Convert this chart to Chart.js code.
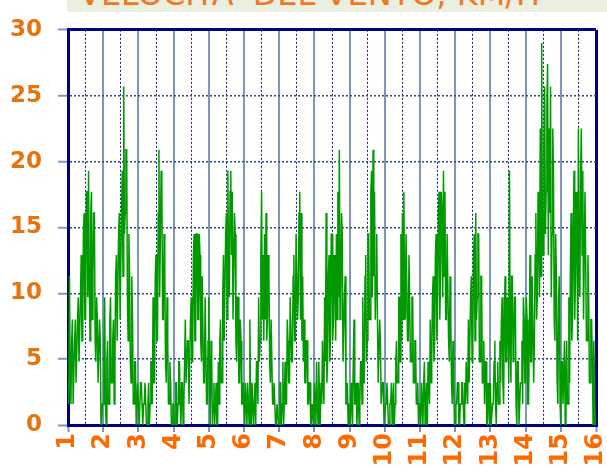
<!DOCTYPE html>
<html>
<head>
<meta charset="utf-8">
<script src="https://cdn.jsdelivr.net/npm/chart.js@4.4.0/dist/chart.umd.min.js"></script>
<style>
  html, body { margin: 0; padding: 0; background: #fff; overflow: hidden; width: 607px; height: 467px; }
  #grafico { position: absolute; left: 0; top: 0; }
  #titolo { position: absolute; left: 67px; top: 0; width: 540px; height: 12px; background: #ebefdf; overflow: hidden; }
  #titolo span { position: absolute; left: 12px; top: -22px; font: 32px "DejaVu Sans", sans-serif; line-height: 32px; color: #f07820; white-space: nowrap; }
</style>
</head>
<body>
<canvas id="grafico" width="607" height="475"></canvas>
<div id="titolo"><span>VELOCITA' DEL VENTO, KM/H</span></div>
<script>
// velocita' del vento (km/h), una lettura ogni mezz'ora (48 per giorno)
const giorno1 = [3.2, 1.6, 11.3, 3.2, 1.6, 6.4, 8.0, 1.6, 1.6, 6.4, 8.0, 3.2, 3.2, 8.0, 9.7, 4.8, 4.8, 9.7, 12.9, 6.4, 6.4, 14.5, 16.1, 8.0,
                 8.0, 17.7, 17.7, 9.7, 19.3, 11.3, 6.4, 16.1, 17.7, 8.0, 11.3, 16.1, 16.1, 6.4, 4.8, 9.7, 8.0, 3.2, 3.2, 8.0, 6.4, 0, 0, 1.6];
const giorno2 = [1.6, 6.4, 9.7, 1.6, 0, 4.8, 6.4, 1.6, 1.6, 8.0, 9.7, 3.2, 3.2, 6.4, 8.0, 1.6, 4.8, 11.3, 12.9, 6.4, 6.4, 14.5, 16.1, 8.0,
                 8.0, 16.1, 19.3, 11.3, 25.7, 14.5, 16.1, 20.9, 20.9, 9.7, 6.4, 14.5, 11.3, 4.8, 3.2, 11.3, 8.0, 1.6, 1.6, 4.8, 4.8, 0, 0, 3.2];
const giorno3 = [1.6, 0, 0, 3.2, 3.2, 1.6, 0, 1.6, 1.6, 3.2, 3.2, 0, 0, 1.6, 3.2, 0, 1.6, 4.8, 4.8, 1.6, 9.7, 3.2, 3.2, 11.3,
                 12.9, 6.4, 6.4, 16.1, 20.9, 9.7, 14.5, 19.3, 17.7, 8.0, 8.0, 14.5, 11.3, 4.8, 3.2, 9.7, 6.4, 1.6, 1.6, 4.8, 3.2, 0, 0, 1.6];
const giorno4 = [1.6, 0, 0, 3.2, 3.2, 0, 1.6, 4.8, 4.8, 1.6, 0, 3.2, 3.2, 0, 1.6, 4.8, 8.0, 3.2, 3.2, 6.4, 6.4, 1.6, 1.6, 8.0,
                 9.7, 4.8, 4.8, 12.9, 14.5, 6.4, 6.4, 14.5, 14.5, 8.0, 8.0, 14.5, 12.9, 6.4, 4.8, 11.3, 11.3, 3.2, 3.2, 9.7, 9.7, 1.6, 1.6, 6.4];
const giorno5 = [9.7, 3.2, 0, 6.4, 4.8, 0, 1.6, 3.2, 0, 1.6, 3.2, 0, 0, 4.8, 1.6, 6.4, 8.0, 3.2, 3.2, 9.7, 12.9, 6.4, 6.4, 14.5,
                 16.1, 8.0, 19.3, 11.3, 9.7, 17.7, 19.3, 12.9, 17.7, 8.0, 8.0, 16.1, 14.5, 6.4, 4.8, 9.7, 9.7, 3.2, 3.2, 8.0, 6.4, 1.6, 1.6, 3.2];
const giorno6 = [1.6, 0, 3.2, 1.6, 0, 3.2, 1.6, 0, 8.0, 1.6, 0, 3.2, 3.2, 0, 1.6, 3.2, 0, 4.8, 4.8, 1.6, 9.7, 4.8, 6.4, 12.9,
                 17.7, 8.0, 12.9, 6.4, 14.5, 8.0, 16.1, 6.4, 8.0, 12.9, 11.3, 4.8, 3.2, 8.0, 8.0, 1.6, 1.6, 3.2, 3.2, 0, 0, 1.6, 1.6, 0];
const giorno7 = [0, 3.2, 3.2, 0, 1.6, 4.8, 0, 1.6, 4.8, 1.6, 1.6, 8.0, 6.4, 3.2, 3.2, 9.7, 9.7, 4.8, 4.8, 11.3, 12.9, 6.4, 6.4, 14.5,
                 14.5, 8.0, 9.7, 16.1, 17.7, 8.0, 16.1, 6.4, 11.3, 4.8, 8.0, 3.2, 3.2, 6.4, 6.4, 1.6, 1.6, 3.2, 3.2, 0, 0, 1.6, 1.6, 0];
const giorno8 = [3.2, 1.6, 0, 4.8, 1.6, 0, 4.8, 1.6, 0, 3.2, 1.6, 6.4, 3.2, 1.6, 9.7, 4.8, 16.1, 3.2, 4.8, 11.3, 12.9, 4.8, 6.4, 14.5,
                 14.5, 6.4, 8.0, 12.9, 11.3, 6.4, 14.5, 8.0, 17.7, 9.7, 20.9, 8.0, 9.7, 16.1, 14.5, 4.8, 4.8, 9.7, 11.3, 1.6, 1.6, 3.2, 0, 1.6];
const giorno9 = [1.6, 0, 3.2, 1.6, 0, 4.8, 8.0, 1.6, 1.6, 3.2, 0, 1.6, 3.2, 0, 1.6, 4.8, 4.8, 1.6, 9.7, 3.2, 3.2, 11.3, 12.9, 4.8,
                 6.4, 14.5, 14.5, 8.0, 8.0, 17.7, 19.3, 9.7, 20.9, 11.3, 17.7, 8.0, 11.3, 14.5, 8.0, 3.2, 3.2, 8.0, 6.4, 1.6, 1.6, 3.2, 3.2, 0];
const giorno10 = [0, 1.6, 1.6, 3.2, 3.2, 0, 0, 1.6, 1.6, 3.2, 0, 1.6, 3.2, 0, 1.6, 4.8, 6.4, 3.2, 3.2, 9.7, 9.7, 4.8, 14.5, 6.4,
                  16.1, 8.0, 17.7, 9.7, 8.0, 14.5, 14.5, 6.4, 6.4, 12.9, 12.9, 4.8, 4.8, 9.7, 9.7, 3.2, 3.2, 6.4, 6.4, 1.6, 1.6, 3.2, 0, 1.6];
const giorno11 = [1.6, 0, 3.2, 1.6, 0, 3.2, 4.8, 0, 1.6, 3.2, 0, 4.8, 3.2, 1.6, 8.0, 3.2, 4.8, 9.7, 11.3, 4.8, 6.4, 12.9, 14.5, 6.4,
                  9.7, 16.1, 17.7, 8.0, 11.3, 17.7, 16.1, 9.7, 19.3, 11.3, 17.7, 8.0, 8.0, 14.5, 14.5, 6.4, 4.8, 11.3, 8.0, 3.2, 1.6, 6.4, 3.2, 0];
const giorno12 = [0, 1.6, 1.6, 3.2, 3.2, 0, 0, 1.6, 1.6, 3.2, 3.2, 1.6, 0, 3.2, 1.6, 4.8, 4.8, 1.6, 8.0, 3.2, 3.2, 9.7, 11.3, 4.8,
                  6.4, 12.9, 14.5, 6.4, 16.1, 8.0, 9.7, 14.5, 14.5, 4.8, 4.8, 11.3, 11.3, 3.2, 3.2, 6.4, 1.6, 4.8, 4.8, 0, 0, 3.2, 1.6, 0];
const giorno13 = [3.2, 0, 0, 1.6, 1.6, 4.8, 6.4, 1.6, 0, 3.2, 4.8, 1.6, 1.6, 6.4, 3.2, 8.0, 9.7, 3.2, 1.6, 8.0, 11.3, 4.8, 4.8, 9.7,
                  8.0, 3.2, 19.3, 6.4, 3.2, 11.3, 11.3, 4.8, 6.4, 9.7, 9.7, 1.6, 0, 4.8, 4.8, 0, 0, 3.2, 3.2, 6.4, 1.6, 9.7, 8.0, 3.2];
const giorno14 = [3.2, 9.7, 8.0, 1.6, 1.6, 6.4, 12.9, 4.8, 4.8, 11.3, 11.3, 3.2, 6.4, 12.9, 16.1, 8.0, 9.7, 17.7, 14.5, 9.7, 22.5, 11.3, 29.0, 12.9,
                  12.9, 20.9, 25.7, 14.5, 17.7, 24.1, 27.4, 12.9, 22.5, 16.1, 25.7, 9.7, 14.5, 22.5, 19.3, 8.0, 6.4, 14.5, 11.3, 3.2, 1.6, 9.7, 11.3, 1.6];
const giorno15 = [0, 4.8, 4.8, 1.6, 1.6, 6.4, 0, 3.2, 6.4, 1.6, 1.6, 9.7, 3.2, 11.3, 16.1, 6.4, 8.0, 14.5, 19.3, 8.0, 11.3, 17.7, 14.5, 6.4,
                  22.5, 11.3, 9.7, 19.3, 22.5, 12.9, 19.3, 8.0, 12.9, 17.7, 17.7, 6.4, 6.4, 12.9, 9.7, 3.2, 3.2, 8.0, 8.0, 4.8, 0, 6.4, 3.2, 0];
const giorno16 = [0];

// etichette asse x (giorni), linee di mezzogiorno, tacche asse y
const giorni = [1, 2, 3, 4, 5, 6, 7, 8, 9, 10, 11, 12, 13, 14, 15, 16];
const mezzogiorni = [1.5, 2.5, 3.5, 4.5, 5.5, 6.5, 7.5, 8.5, 9.5, 10.5, 11.5, 12.5, 13.5, 14.5, 15.5];
const valoriY = [0, 5, 10, 15, 20, 25, 30];

const letture = [].concat(giorno1, giorno2, giorno3, giorno4, giorno5, giorno6, giorno7, giorno8,
    giorno9, giorno10, giorno11, giorno12, giorno13, giorno14, giorno15, giorno16);
const punti = letture.map((v, i) => ({ x: giorni[0] + i / 48, y: v }));

const BLU = '#000080';
const GRIGIO = '#7b98b8';

const eBordoX = (c) => c.tick && (c.tick.value === giorni[0] || c.tick.value === giorni[giorni.length - 1]);
const eMezzo = (c) => c.tick && c.tick.value % 1 !== 0;
const eBordoY = (c) => c.tick && (c.tick.value === valoriY[0] || c.tick.value === valoriY[valoriY.length - 1]);

// etichette dei giorni scritte in verticale sotto l'asse x
const etichetteGiorni = {
    id: 'etichetteGiorni',
    afterDraw(chart) {
        const { ctx } = chart;
        const x = chart.scales.x;
        ctx.save();
        ctx.fillStyle = '#ff6a00';
        ctx.font = 'bold 24px "DejaVu Sans"';
        ctx.textAlign = 'right';
        ctx.textBaseline = 'middle';
        giorni.forEach((g) => {
            ctx.save();
            ctx.translate(x.getPixelForValue(g), x.top + 8);
            ctx.rotate(-Math.PI / 2);
            ctx.fillText(String(g), 0, 0);
            ctx.restore();
        });
        ctx.restore();
    }
};

new Chart(document.getElementById('grafico'), {
    type: 'line',
    data: {
        datasets: [{
            data: punti,
            borderColor: '#009a00',
            borderWidth: 1.5,
            pointRadius: 0,
            tension: 0,
            fill: false
        }]
    },
    options: {
        responsive: false,
        animation: false,
        layout: { padding: { left: 10, right: 11, top: 25, bottom: 2 } },
        plugins: { legend: { display: false }, tooltip: { enabled: false } },
        scales: {
            x: {
                type: 'linear',
                min: giorni[0],
                max: giorni[giorni.length - 1],
                afterBuildTicks: (axis) => {
                    axis.ticks = giorni.concat(mezzogiorni).sort((a, b) => a - b).map(v => ({ value: v }));
                },
                afterFit: (axis) => {
                    axis.height = 48;
                    axis.paddingLeft = 0;
                    axis.paddingRight = 0;
                },
                ticks: { display: false },
                grid: {
                    color: (c) => eBordoX(c) ? BLU : (eMezzo(c) ? '#1a1a8c' : GRIGIO),
                    lineWidth: (c) => eBordoX(c) ? 3 : (eMezzo(c) ? 1 : 2),
                    tickColor: (c) => eMezzo(c) ? 'rgba(0,0,0,0)' : GRIGIO,
                    tickLength: 7,
                    tickWidth: 2
                },
                border: {
                    display: true,
                    color: BLU,
                    width: 3,
                    dash: (c) => eMezzo(c) ? [2, 2] : []
                }
            },
            y: {
                min: valoriY[0],
                max: valoriY[valoriY.length - 1],
                afterBuildTicks: (axis) => {
                    axis.ticks = valoriY.map(v => ({ value: v }));
                },
                afterFit: (axis) => { axis.width = 58; },
                ticks: {
                    padding: 16,
                    color: '#e8720c',
                    font: { family: 'DejaVu Sans', weight: 'bold', size: 23 }
                },
                grid: {
                    color: (c) => eBordoY(c) ? BLU : '#2a4a80',
                    lineWidth: (c) => eBordoY(c) ? 3 : 1.5,
                    tickColor: GRIGIO,
                    tickLength: 10,
                    tickWidth: 2
                },
                border: {
                    display: true,
                    color: BLU,
                    width: 3,
                    dash: (c) => (c.tick && !eBordoY(c)) ? [2, 2] : []
                }
            }
        }
    },
    plugins: [etichetteGiorni]
});
</script>
</body>
</html>
